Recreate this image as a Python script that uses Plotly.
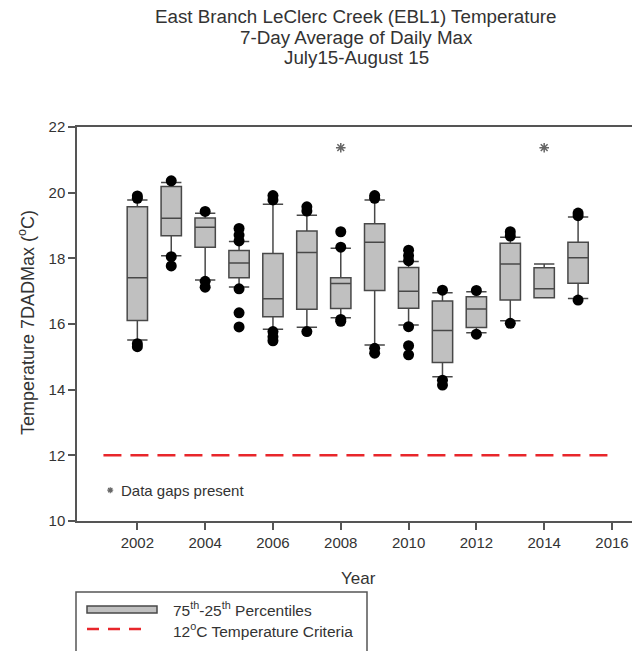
import plotly.graph_objects as go

# ---- data ----
years = [2002, 2003, 2004, 2005, 2006, 2007, 2008, 2009, 2010, 2011, 2012, 2013, 2014, 2015]
q1 = [16.11, 18.69, 18.34, 17.41, 16.22, 16.45, 16.47, 17.02, 16.48, 14.83, 15.89, 16.73, 16.80, 17.24]
median = [17.41, 19.22, 18.95, 17.86, 16.77, 18.18, 17.23, 18.49, 17.00, 15.80, 16.46, 17.83, 17.07, 18.02]
q3 = [19.57, 20.19, 19.23, 18.24, 18.15, 18.83, 17.41, 19.05, 17.72, 16.70, 16.83, 18.46, 17.71, 18.49]
low_whisker = [15.51, 18.08, 17.34, 17.13, 15.84, 15.90, 16.19, 15.36, 15.97, 14.39, 15.73, 16.10, 16.80, 16.78]
high_whisker = [19.78, 20.31, 19.37, 18.51, 19.65, 19.31, 18.31, 19.78, 17.90, 16.95, 16.98, 18.64, 17.83, 19.26]

out_years = [2002, 2002, 2002, 2002,
             2003, 2003, 2003,
             2004, 2004, 2004,
             2005, 2005, 2005, 2005, 2005, 2005,
             2006, 2006, 2006, 2006, 2006,
             2007, 2007, 2007,
             2008, 2008, 2008, 2008,
             2009, 2009, 2009, 2009,
             2010, 2010, 2010, 2010, 2010, 2010,
             2011, 2011, 2011,
             2012, 2012,
             2013, 2013, 2013,
             2015, 2015, 2015]
out_vals = [19.90, 19.83, 15.40, 15.31,
            20.36, 18.05, 17.77,
            19.43, 17.30, 17.12,
            18.91, 18.71, 18.53, 17.07, 16.34, 15.91,
            19.91, 19.78, 15.77, 15.61, 15.49,
            19.57, 19.44, 15.77,
            18.81, 18.34, 16.14, 16.08,
            19.91, 19.83, 15.26, 15.11,
            18.25, 18.08, 17.93, 15.92, 15.34, 15.06,
            17.03, 14.29, 14.14,
            17.02, 15.69,
            18.81, 18.68, 16.02,
            19.38, 19.30, 16.73]

gap_years = [2008, 2014]
gap_marker_y = [21.37, 21.37]

criteria_x = [2001, 2016]
criteria_y = [12, 12]

x_ticks = [2002, 2004, 2006, 2008, 2010, 2012, 2014, 2016]
y_ticks = [10, 12, 14, 16, 18, 20, 22]

title_lines = ["East Branch LeClerc Creek (EBL1) Temperature",
               "7-Day Average of Daily Max",
               "July15-August 15"]

# ---- figure ----
W, H = 632, 651
L, R, T, B = 77, 632, 127, 521

def px(x):
    return (x - L) / (R - L)

def py(y):
    return (B - y) / (B - T)

fig = go.Figure()

fig.add_trace(go.Scatter(
    x=criteria_x, y=criteria_y, mode="lines",
    line=dict(color="#e8262b", width=2.5, dash="18px,9px"),
    showlegend=False, hoverinfo="skip"))

fig.add_trace(go.Box(
    x=years, q1=q1, median=median, q3=q3,
    lowerfence=low_whisker, upperfence=high_whisker,
    width=0.6, whiskerwidth=1,
    fillcolor="#c0c0c0", line=dict(color="#484848", width=1.5),
    boxpoints=False, showlegend=False))

fig.add_trace(go.Scatter(
    x=out_years, y=out_vals, mode="markers",
    marker=dict(color="black", size=11),
    showlegend=False))

fig.add_trace(go.Scatter(
    x=gap_years, y=gap_marker_y, mode="markers",
    marker=dict(symbol="asterisk-open", size=8, color="#666666",
                line=dict(color="#666666", width=1.5)),
    showlegend=False))

# "Data gaps present" note
fig.add_trace(go.Scatter(
    x=[2001.2], y=[10.94], mode="markers",
    marker=dict(symbol="asterisk-open", size=5, color="#666666",
                line=dict(color="#666666", width=1.2)),
    showlegend=False, hoverinfo="skip"))

annotations = [
    dict(x=2001.45, y=10.94, xref="x", yref="y", text="Data gaps present",
         showarrow=False, xanchor="left", yanchor="middle",
         font=dict(size=15, color="#333333")),
]
for i, line in enumerate(title_lines):
    annotations.append(dict(
        x=px(356), y=py(17 + i * 20), xref="paper", yref="paper",
        text=line, showarrow=False, xanchor="center", yanchor="middle",
        font=dict(size=18.8, color="#333333")))

annotations.append(dict(
    x=px(358), y=py(578), xref="paper", yref="paper", text="Year",
    showarrow=False, xanchor="center", yanchor="middle",
    font=dict(size=17, color="#333333")))
annotations.append(dict(
    x=px(26), y=py(323), xref="paper", yref="paper",
    text="Temperature 7DADMax (<sup>o</sup>C)", textangle=-90,
    showarrow=False, xanchor="center", yanchor="middle",
    font=dict(size=18, color="#333333")))

# legend (drawn manually)
annotations.append(dict(
    x=px(171), y=py(609), xref="paper", yref="paper",
    text="75<sup>th</sup>-25<sup>th</sup> Percentiles",
    showarrow=False, xanchor="left", yanchor="middle",
    font=dict(size=15.5, color="#333333")))
annotations.append(dict(
    x=px(171), y=py(630), xref="paper", yref="paper",
    text="12<sup>o</sup>C Temperature Criteria",
    showarrow=False, xanchor="left", yanchor="middle",
    font=dict(size=15.5, color="#333333")))

shapes = [
    dict(type="rect", xref="paper", yref="paper",
         x0=px(76), x1=px(367), y0=py(592), y1=py(660),
         line=dict(color="#555555", width=1.5), fillcolor="white", layer="above"),
    dict(type="rect", xref="paper", yref="paper",
         x0=px(87), x1=px(157), y0=py(606), y1=py(613),
         line=dict(color="#484848", width=1.5), fillcolor="#c0c0c0", layer="above"),
    dict(type="line", xref="paper", yref="paper",
         x0=px(87), x1=px(150), y0=py(629), y1=py(629),
         line=dict(color="#e8262b", width=2.5, dash="12px,9px"), layer="above"),
]

fig.update_layout(
    width=W, height=H,
    margin=dict(l=L, r=W - R, t=T, b=H - B),
    paper_bgcolor="white", plot_bgcolor="white",
    font=dict(family="Liberation Sans, Arial, sans-serif", color="#333333"),
    showlegend=False,
    annotations=annotations,
    shapes=shapes,
)
fig.update_xaxes(
    range=[2000.22, 2016.59], tickvals=x_ticks, ticktext=[str(v) for v in x_ticks],
    showline=True, linecolor="#555555", linewidth=1.5, mirror=True,
    ticks="outside", ticklen=7, tickcolor="#555555", tickwidth=1.5,
    showgrid=False, zeroline=False, tickfont=dict(size=15, color="#333333"))
fig.update_yaxes(
    range=[10, 22], tickvals=y_ticks,
    showline=True, linecolor="#555555", linewidth=1.5, mirror=False,
    ticks="outside", ticklen=7, tickcolor="#555555", tickwidth=1.5,
    showgrid=False, zeroline=False, tickfont=dict(size=15, color="#333333"))

fig.write_html("out.html", config={"displayModeBar": False},
               post_script="document.body.style.margin='0';document.body.style.overflow='hidden';")
